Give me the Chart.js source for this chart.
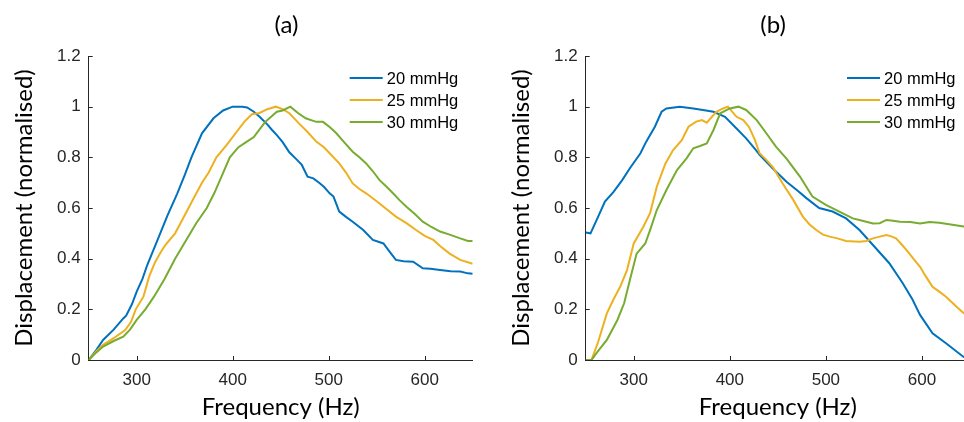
<!DOCTYPE html>
<html>
<head>
<meta charset="utf-8">
<title>Displacement vs frequency</title>
<script src="https://cdn.jsdelivr.net/npm/chart.js"></script>
<style>
  html, body { margin: 0; padding: 0; background: #fff; overflow: hidden; }
  body { width: 964px; height: 422px; position: relative; }
  canvas { position: absolute; top: 0; }
  #chartA { left: 0; }
  #chartB { left: 497px; }
</style>
</head>
<body>
<canvas id="chartA" width="482" height="422"></canvas>
<canvas id="chartB" width="475" height="422"></canvas>
<script>
// axis ticks and legend labels
const X_TICKS = [300, 400, 500, 600];
const Y_TICKS = [0, 0.2, 0.4, 0.6, 0.8, 1, 1.2];
const SERIES_LABELS = ['20 mmHg', '25 mmHg', '30 mmHg'];
const COLORS = ['#0072BD', '#EDB120', '#77AC30'];

// panel (a)
const freqA20 = [250, 258, 265, 276, 286, 289, 295, 300, 306, 311, 321, 332, 342, 350, 357, 368, 380, 390, 400, 410, 415, 422, 428, 436, 441, 446, 452, 459, 467, 472, 478, 484, 490, 495, 501, 505, 511, 518, 525, 536, 546, 557, 563, 570, 578, 588, 598, 606, 616, 627, 637, 645, 650];
const dispA20 = [0, 0.04, 0.079, 0.12, 0.164, 0.175, 0.22, 0.27, 0.32, 0.375, 0.467, 0.57, 0.655, 0.73, 0.8, 0.895, 0.954, 0.985, 1.0, 1.0, 0.997, 0.98, 0.96, 0.93, 0.908, 0.888, 0.86, 0.82, 0.79, 0.77, 0.724, 0.717, 0.7, 0.684, 0.658, 0.645, 0.586, 0.565, 0.546, 0.513, 0.474, 0.46, 0.43, 0.395, 0.39, 0.388, 0.362, 0.36, 0.355, 0.35, 0.349, 0.342, 0.34];

const freqA25 = [250, 258, 265, 276, 288, 294, 299, 307, 313, 319, 325, 330, 340, 347, 354, 361, 368, 375, 383, 394, 404, 412, 420, 428, 436, 445, 452, 459, 469, 478, 487, 495, 501, 511, 518, 525, 532, 539, 553, 562, 570, 581, 591, 600, 609, 616, 626, 637, 650];
const dispA25 = [0, 0.035, 0.06, 0.086, 0.118, 0.15, 0.2, 0.25, 0.33, 0.385, 0.425, 0.455, 0.5, 0.55, 0.6, 0.65, 0.7, 0.74, 0.8, 0.85, 0.9, 0.94, 0.97, 0.975, 0.99, 1.0, 0.99, 0.974, 0.934, 0.9, 0.862, 0.84, 0.816, 0.776, 0.74, 0.697, 0.675, 0.658, 0.618, 0.59, 0.566, 0.54, 0.513, 0.49, 0.474, 0.45, 0.42, 0.395, 0.38];

const freqA30 = [250, 258, 265, 276, 286, 293, 300, 309, 318, 329, 340, 351, 362, 373, 381, 389, 397, 406, 414, 422, 428, 434, 440, 446, 452, 460, 468, 476, 487, 494, 501, 508, 516, 525, 532, 539, 546, 553, 560, 567, 574, 581, 590, 598, 607, 616, 626, 637, 645, 650];
const dispA30 = [0, 0.03, 0.053, 0.075, 0.092, 0.12, 0.158, 0.2, 0.25, 0.32, 0.4, 0.47, 0.54, 0.6, 0.66, 0.73, 0.8, 0.84, 0.86, 0.88, 0.91, 0.94, 0.96, 0.98, 0.985, 1.0, 0.975, 0.954, 0.94, 0.94, 0.92, 0.895, 0.86, 0.822, 0.8, 0.776, 0.745, 0.71, 0.685, 0.658, 0.63, 0.605, 0.575, 0.546, 0.525, 0.507, 0.495, 0.48, 0.47, 0.47];

// panel (b)
const freqB20 = [250, 255, 263, 270, 279, 288, 296, 307, 313, 322, 329, 334, 348, 362, 372, 383, 395, 407, 417, 427, 431, 445, 459, 470, 480, 493, 507, 521, 535, 549, 566, 580, 590, 598, 611, 625, 643, 645];
const dispB20 = [0.503, 0.5, 0.566, 0.625, 0.664, 0.71, 0.757, 0.816, 0.862, 0.921, 0.98, 0.993, 1.0, 0.993, 0.987, 0.98, 0.96, 0.914, 0.875, 0.829, 0.81, 0.755, 0.704, 0.67, 0.638, 0.6, 0.586, 0.559, 0.513, 0.454, 0.382, 0.303, 0.24, 0.178, 0.105, 0.066, 0.013, 0.01];

const freqB25 = [250, 256, 263, 272, 279, 286, 293, 300, 310, 317, 324, 333, 341, 350, 357, 365, 371, 376, 386, 393, 398, 407, 414, 420, 426, 431, 438, 445, 455, 466, 476, 483, 490, 497, 504, 512, 521, 535, 542, 549, 556, 563, 568, 573, 578, 584, 591, 598, 604, 611, 618, 625, 636, 645];
const dispB25 = [0, 0, 0.072, 0.184, 0.24, 0.29, 0.355, 0.46, 0.526, 0.58, 0.684, 0.776, 0.829, 0.868, 0.921, 0.941, 0.947, 0.937, 0.98, 0.993, 1.0, 0.96, 0.947, 0.92, 0.87, 0.816, 0.79, 0.76, 0.697, 0.632, 0.566, 0.535, 0.513, 0.495, 0.487, 0.48, 0.47, 0.467, 0.47, 0.48, 0.487, 0.493, 0.488, 0.48, 0.46, 0.434, 0.4, 0.368, 0.33, 0.289, 0.27, 0.25, 0.21, 0.18];

const freqB30 = [250, 256, 261, 272, 283, 290, 296, 303, 312, 317, 324, 334, 345, 355, 362, 369, 376, 383, 390, 400, 409, 417, 428, 438, 448, 459, 473, 486, 500, 514, 528, 538, 549, 556, 563, 570, 577, 588, 598, 608, 618, 630, 645];
const dispB30 = [0, 0, 0.026, 0.079, 0.158, 0.224, 0.316, 0.42, 0.46, 0.513, 0.592, 0.671, 0.75, 0.796, 0.836, 0.845, 0.855, 0.908, 0.974, 0.993, 1.0, 0.987, 0.947, 0.895, 0.842, 0.795, 0.724, 0.645, 0.612, 0.586, 0.559, 0.55, 0.539, 0.54, 0.553, 0.55, 0.546, 0.545, 0.539, 0.545, 0.542, 0.535, 0.526];

const INK = '#262626';
const TICK_FONT = { family: "'Liberation Sans', Arial, sans-serif", size: 17 };
const LABEL_FONT = { family: 'Lato, sans-serif', size: 24 };

// short tick marks pointing into the plot, like MATLAB axes
const innerTicks = {
  id: 'innerTicks',
  afterDraw(chart) {
    const { ctx, chartArea: a, scales: { x, y } } = chart;
    ctx.save();
    ctx.strokeStyle = INK;
    ctx.lineWidth = 1;
    ctx.beginPath();
    x.ticks.forEach(t => {
      const px = Math.round(x.getPixelForValue(t.value)) + 0.5;
      ctx.moveTo(px, a.bottom);
      ctx.lineTo(px, a.bottom - 4);
    });
    y.ticks.forEach(t => {
      const py = Math.round(y.getPixelForValue(t.value)) + 0.5;
      ctx.moveTo(a.left, py);
      ctx.lineTo(a.left + 4, py);
    });
    ctx.stroke();
    ctx.restore();
  }
};

// panel letter above the axes
const panelTitle = {
  id: 'panelTitle',
  afterDraw(chart, args, opts) {
    const { ctx, chartArea: a } = chart;
    ctx.save();
    ctx.font = '24px Lato, sans-serif';
    ctx.fillStyle = '#000';
    ctx.textAlign = 'center';
    ctx.textBaseline = 'alphabetic';
    ctx.fillText(opts.text, (a.left + a.right) / 2 + opts.dx, 33);
    ctx.restore();
  }
};

// legend box in the top-right corner of the axes
const insetLegend = {
  id: 'insetLegend',
  afterDraw(chart) {
    const { ctx, chartArea: a } = chart;
    ctx.save();
    ctx.font = "16.5px 'Liberation Sans', Arial, sans-serif";
    ctx.textBaseline = 'middle';
    ctx.textAlign = 'left';
    chart.data.datasets.forEach((ds, i) => {
      const yy = a.top + 22 + i * 22;
      ctx.strokeStyle = ds.borderColor;
      ctx.lineWidth = 2;
      ctx.beginPath();
      ctx.moveTo(a.right - 123, yy);
      ctx.lineTo(a.right - 90, yy);
      ctx.stroke();
      ctx.fillStyle = '#000';
      ctx.fillText(ds.label, a.right - 86, yy + 1);
    });
    ctx.restore();
  }
};

function toPoints(xs, ys) {
  return xs.map((f, j) => ({ x: f, y: ys[j] }));
}

function makeChart(id, title, dx, padRight, series) {
  return new Chart(document.getElementById(id), {
    type: 'scatter',
    data: {
      datasets: series.map((s, i) => ({
        label: SERIES_LABELS[i],
        data: toPoints(s[0], s[1]),
        showLine: true,
        borderColor: COLORS[i],
        backgroundColor: COLORS[i],
        borderWidth: 2,
        pointRadius: 0,
        tension: 0,
        order: 2 - i
      }))
    },
    options: {
      responsive: false,
      animation: false,
      devicePixelRatio: 1,
      layout: { padding: { top: 56, right: padRight, left: 0, bottom: 0 } },
      plugins: {
        legend: { display: false },
        tooltip: { enabled: false },
        panelTitle: { text: title, dx: dx }
      },
      scales: {
        x: {
          type: 'linear',
          min: 250,
          max: 650,
          afterBuildTicks: s => { s.ticks = X_TICKS.map(v => ({ value: v })); },
          afterFit: s => { s.height = 62; },
          grid: { drawOnChartArea: false, drawTicks: false },
          border: { color: INK, width: 1 },
          ticks: { padding: 10, font: TICK_FONT, color: INK, maxRotation: 0 },
          title: { display: true, text: 'Frequency (Hz)', font: LABEL_FONT, color: '#000', padding: 0 }
        },
        y: {
          type: 'linear',
          min: 0,
          max: 1.2,
          afterBuildTicks: s => { s.ticks = Y_TICKS.map(v => ({ value: v })); },
          afterFit: s => { s.width = 88.7; },
          grid: { drawOnChartArea: false, drawTicks: false },
          border: { color: INK, width: 1 },
          ticks: { padding: 8, font: TICK_FONT, color: INK, callback: v => String(+v.toFixed(1)) },
          title: { display: true, text: 'Displacement (normalised)', font: LABEL_FONT, color: '#000', padding: { top: 10, bottom: 0 } }
        }
      }
    },
    plugins: [innerTicks, panelTitle, insetLegend]
  });
}

makeChart('chartA', '(a)', 5.8, 9.3, [[freqA20, dispA20], [freqA25, dispA25], [freqA30, dispA30]]);
makeChart('chartB', '(b)', -4.7, 2, [[freqB20, dispB20], [freqB25, dispB25], [freqB30, dispB30]]);
</script>
</body>
</html>
